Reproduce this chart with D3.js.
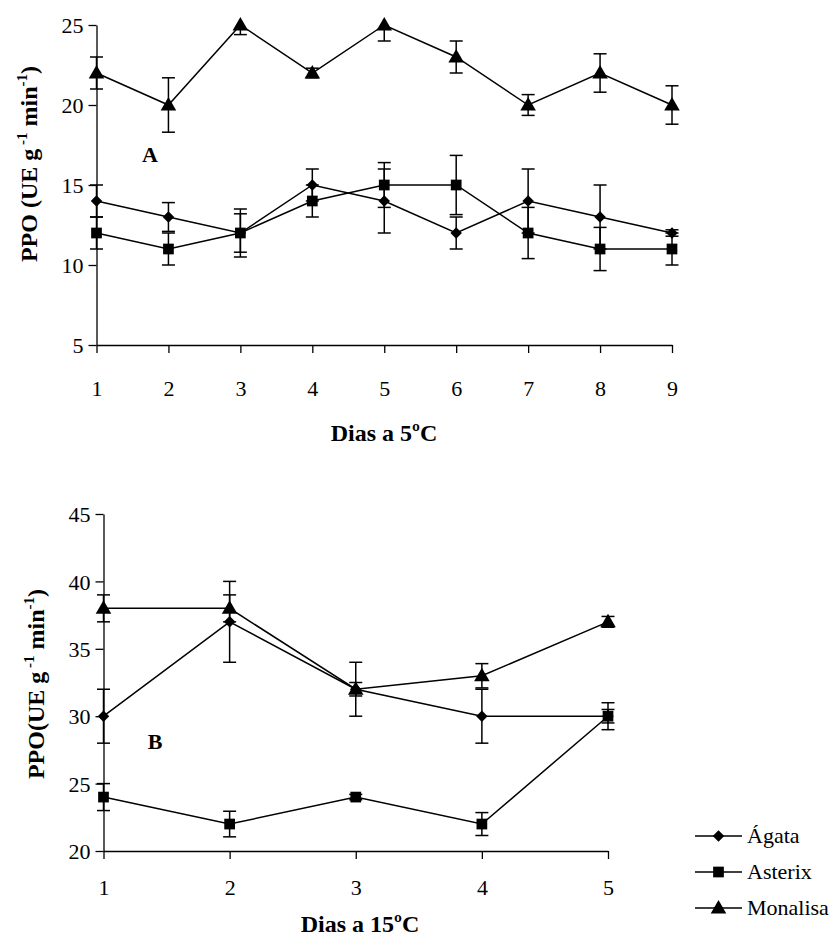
<!DOCTYPE html>
<html>
<head>
<meta charset="utf-8">
<script src="https://cdn.jsdelivr.net/npm/d3@7"></script>
<style>
  body { margin: 0; background: #fff; }
  svg text { font-family: "Liberation Serif", "Times New Roman", serif; fill: #000; }
</style>
</head>
<body>
<div id="viz-container"></div>
<script>
// Panel A: days at 5 ºC
const days5 = [1, 2, 3, 4, 5, 6, 7, 8, 9];
const agata5 = [14, 13, 12, 15, 14, 12, 14, 13, 12];
const agata5Err = [1, 0.9, 1.5, 1, 2, 1, 2, 2, 0.2];
const asterix5 = [12, 11, 12, 14, 15, 15, 12, 11, 11];
const asterix5Err = [1, 1, 1.2, 1, 1.4, 1.85, 1.6, 1.35, 1];
const monalisa5 = [22, 20, 25, 22, 25, 23, 20, 22, 20];
const monalisa5Err = [1, 1.7, 0.6, 0.3, 1, 1, 0.65, 1.2, 1.2];
const yTicks5 = [5, 10, 15, 20, 25];

// Panel B: days at 15 ºC
const days15 = [1, 2, 3, 4, 5];
const agata15 = [30, 37, 32, 30, 30];
const agata15Err = [2, 3, 2, 2, 0.5];
const asterix15 = [24, 22, 24, 22, 30];
const asterix15Err = [1, 0.95, 0.2, 0.85, 1];
const monalisa15 = [38, 38, 32, 33, 37];
const monalisa15Err = [1, 1, 0.5, 0.9, 0.4];
const yTicks15 = [20, 25, 30, 35, 40, 45];

const seriesNames = ["Ágata", "Asterix", "Monalisa"];
const markerTypes = [d3.symbolDiamond2, d3.symbolSquare, d3.symbolTriangle];
const markerSizes = [85, 115, 105];

const svg = d3.select("#viz-container").append("svg")
    .attr("width", 837)
    .attr("height", 939);

function marker(g, i, x, y) {
    g.append("path")
        .attr("d", d3.symbol().type(markerTypes[i]).size(markerSizes[i])())
        .attr("transform", i === 2 ? `translate(${x},${y + 1})` : `translate(${x},${y})`)
        .attr("fill", "#000");
}

function drawPanel(opts) {
    const { days, series, errs, yDomain, yTicks, xRange, yRange, letter, letterPos, xTitle, xTitleX, yTitle, yTitleY, xLabelY, xTitleY } = opts;

    const x = d3.scaleLinear().domain([days[0], days[days.length - 1]]).range(xRange);
    const y = d3.scaleLinear().domain(yDomain).range(yRange).clamp(true);

    const g = svg.append("g");

    // axes
    const xAxis = g.append("g")
        .attr("transform", `translate(0,${yRange[0]})`)
        .call(d3.axisBottom(x).tickValues(days).tickFormat(d3.format("d")).tickSize(8).tickSizeOuter(0));
    xAxis.selectAll("text").attr("dy", null).attr("y", xLabelY - yRange[0]).style("font-size", "22px");

    const yAxis = g.append("g")
        .attr("transform", `translate(${xRange[0]},0)`)
        .call(d3.axisLeft(y).tickValues(yTicks).tickSize(8).tickSizeOuter(0));
    yAxis.selectAll("text").attr("x", -13).attr("dy", "0.35em").style("font-size", "22px");

    g.selectAll(".domain, .tick line").attr("stroke", "#000").attr("stroke-width", 1.3);

    // lines
    const line = d3.line().x((d, i) => x(days[i])).y(d => y(d));
    series.forEach(vals => {
        g.append("path")
            .datum(vals)
            .attr("d", line)
            .attr("fill", "none")
            .attr("stroke", "#000")
            .attr("stroke-width", 1.5);
    });

    // error bars
    series.forEach((vals, s) => {
        vals.forEach((v, i) => {
            const cx = x(days[i]);
            const y0 = y(v - errs[s][i]);
            const y1 = y(v + errs[s][i]);
            g.append("line").attr("x1", cx).attr("x2", cx).attr("y1", y0).attr("y2", y1)
                .attr("stroke", "#000").attr("stroke-width", 1.5);
            [v - errs[s][i], v + errs[s][i]].forEach(e => {
                if (e < yDomain[0] || e > yDomain[1]) return;
                g.append("line").attr("x1", cx - 6.5).attr("x2", cx + 6.5).attr("y1", y(e)).attr("y2", y(e))
                    .attr("stroke", "#000").attr("stroke-width", 1.5);
            });
        });
    });

    // markers
    series.forEach((vals, s) => {
        vals.forEach((v, i) => marker(g, s, x(days[i]), y(v)));
    });

    // panel letter
    g.append("text")
        .attr("x", letterPos[0])
        .attr("y", letterPos[1])
        .attr("text-anchor", "middle")
        .style("font-size", "22px")
        .style("font-weight", "bold")
        .text(letter);

    // x title
    g.append("text")
        .attr("x", xTitleX)
        .attr("y", xTitleY)
        .attr("text-anchor", "middle")
        .style("font-size", "24px")
        .style("font-weight", "bold")
        .text(xTitle);

    // y title with superscripts
    const yt = g.append("text")
        .attr("transform", `translate(${opts.yTitleX},${yTitleY}) rotate(-90)`)
        .attr("text-anchor", "middle")
        .style("font-size", "24px")
        .style("font-weight", "bold");
    yt.append("tspan").text(yTitle + "g");
    yt.append("tspan").attr("dy", -10).style("font-size", "15px").text(" -1");
    yt.append("tspan").attr("dy", 10).text(" min");
    yt.append("tspan").attr("dy", -10).style("font-size", "15px").text("-1");
    yt.append("tspan").attr("dy", 10).text(")");
}

drawPanel({
    days: days5,
    series: [agata5, asterix5, monalisa5],
    errs: [agata5Err, asterix5Err, monalisa5Err],
    yDomain: [5, 25], yTicks: yTicks5,
    xRange: [96.5, 672], yRange: [345, 25],
    letter: "A", letterPos: [150, 162],
    xTitle: "Dias a 5ºC", xTitleX: 384, xTitleY: 441,
    yTitle: "PPO (UE ", yTitleX: 37, yTitleY: 164,
    xLabelY: 396
});

drawPanel({
    days: days15,
    series: [agata15, asterix15, monalisa15],
    errs: [agata15Err, asterix15Err, monalisa15Err],
    yDomain: [20, 45], yTicks: yTicks15,
    xRange: [103.5, 608], yRange: [851, 514],
    letter: "B", letterPos: [155, 749],
    xTitle: "Dias a 15ºC", xTitleX: 360, xTitleY: 932,
    yTitle: "PPO(UE ", yTitleX: 44, yTitleY: 684,
    xLabelY: 895
});

// legend
const legend = svg.append("g");
const legendY = [836, 872, 908];
seriesNames.forEach((name, i) => {
    legend.append("line")
        .attr("x1", 695).attr("x2", 742)
        .attr("y1", legendY[i]).attr("y2", legendY[i])
        .attr("stroke", "#000").attr("stroke-width", 1.5);
    marker(legend, i, 718.5, legendY[i]);
    legend.append("text")
        .attr("x", 747)
        .attr("y", legendY[i] + 7)
        .style("font-size", "22px")
        .text(name);
});
</script>
</body>
</html>
